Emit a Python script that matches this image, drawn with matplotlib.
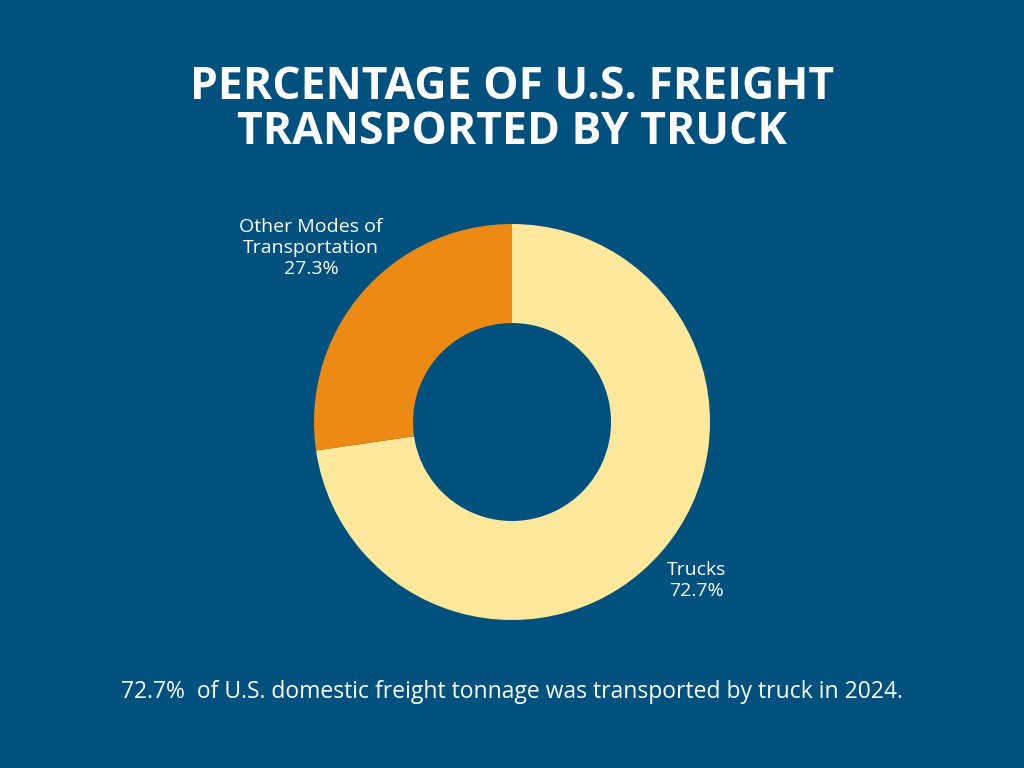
import matplotlib
matplotlib.use("Agg")
import matplotlib.pyplot as plt

# data
labels = ["Trucks", "Other Modes of\nTransportation"]
shares = [72.7, 27.3]
colors = ["#FEE89B", "#EC8A14"]
title = "PERCENTAGE OF U.S. FREIGHT\nTRANSPORTED BY TRUCK"
footer = "72.7%  of U.S. domestic freight tonnage was transported by truck in 2024."

BG = "#01517F"
plt.rcParams['font.family'] = ['Open Sans', 'DejaVu Sans']

fig = plt.figure(figsize=(10.24, 7.68), dpi=100)
fig.patch.set_facecolor(BG)

# pie axes: centre (512, 422) px, radius ~198 px
ax = fig.add_axes([314 / 1024, 148 / 768, 396 / 1024, 396 / 768])
ax.set_facecolor(BG)
ax.pie(shares, colors=colors, startangle=90, counterclock=False, radius=1.0,
       wedgeprops=dict(width=0.5, edgecolor="none"))
ax.set_xlim(-1, 1)
ax.set_ylim(-1, 1)
ax.set_aspect("equal")
ax.axis("off")

# slice labels
ax.text(0.93, -0.80, f"{labels[0]}\n{shares[0]}%", ha="center", va="center",
        color="white", fontsize=14, linespacing=1.2, clip_on=False)
ax.text(-1.015, 0.88, f"{labels[1]}\n{shares[1]}%", ha="center", va="center",
        color="white", fontsize=14, linespacing=1.2, clip_on=False)

fig.text(0.5, 1 - 110 / 768, title, ha="center", va="center", color="white",
         fontsize=32, fontweight="bold", linespacing=0.98)
fig.text(0.5, 1 - 692 / 768, footer, ha="center", va="center", color="white",
         fontsize=16.5)

fig.savefig("out.png", dpi=100, facecolor=BG)
